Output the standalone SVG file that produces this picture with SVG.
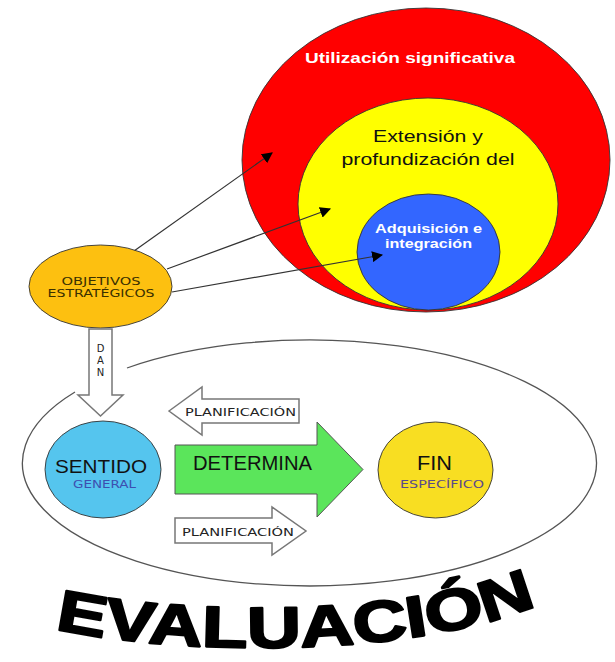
<svg xmlns="http://www.w3.org/2000/svg" width="615" height="662" viewBox="0 0 615 662">
<style>
.ol{stroke:#333;stroke-width:0.9}
.bx{fill:#fff;stroke:#777;stroke-width:1.5}
.sm{font-family:"DejaVu Sans","Liberation Sans",sans-serif;font-size:10px;text-anchor:middle}
.con{stroke:#333;stroke-width:1.2;fill:none;marker-end:url(#ah)}
</style>
<defs>
<marker id="ah" viewBox="0 0 10 10" refX="9" refY="5" markerWidth="11" markerHeight="11" markerUnits="userSpaceOnUse" orient="auto">
<path d="M0 0 L10 5 L0 10 Z" fill="#000"/>
</marker>
</defs>
<rect width="615" height="662" fill="#fff"/>

<g id="utilizacion">
<ellipse cx="426" cy="160" rx="184" ry="152" fill="#ff0000" class="ol"/>
<text x="410" y="63" font-family="Liberation Sans,Arial,sans-serif" font-weight="bold" font-size="15" fill="#fff" text-anchor="middle" textLength="210" lengthAdjust="spacingAndGlyphs">Utilización significativa</text>
</g>
<g id="extension">
<ellipse cx="428" cy="204" rx="130" ry="106" fill="#ffff00" class="ol"/>
<text x="428" y="142" font-family="Liberation Sans,Arial,sans-serif" font-size="17" fill="#111" text-anchor="middle" textLength="110" lengthAdjust="spacingAndGlyphs">Extensión y</text>
<text x="428" y="165" font-family="Liberation Sans,Arial,sans-serif" font-size="17" fill="#111" text-anchor="middle" textLength="173" lengthAdjust="spacingAndGlyphs">profundización del</text>
</g>
<g id="adquisicion">
<ellipse cx="428.5" cy="252" rx="71.5" ry="58" fill="#3366ff" class="ol"/>
<text x="428.5" y="233" font-family="Liberation Sans,Arial,sans-serif" font-weight="bold" font-size="13" fill="#fff" text-anchor="middle" textLength="107" lengthAdjust="spacingAndGlyphs">Adquisición e</text>
<text x="428.5" y="248" font-family="Liberation Sans,Arial,sans-serif" font-weight="bold" font-size="13" fill="#fff" text-anchor="middle" textLength="87" lengthAdjust="spacingAndGlyphs">integración</text>
</g>

<g id="connectors">
<line x1="134" y1="251" x2="272" y2="153" class="con"/>
<line x1="167" y1="269" x2="330" y2="209" class="con"/>
<line x1="172" y1="292" x2="382" y2="255" class="con"/>
</g>

<g id="objetivos">
<ellipse cx="100.5" cy="286.5" rx="71.5" ry="41.5" fill="#fdc010" class="ol"/>
<text x="101" y="285" class="sm" fill="#3a3000" textLength="79" lengthAdjust="spacingAndGlyphs">OBJETIVOS</text>
<text x="101" y="297" class="sm" fill="#3a3000" textLength="107" lengthAdjust="spacingAndGlyphs">ESTRATÉGICOS</text>
</g>

<g id="evaluacion-frame">
<path d="M127 368 A287 123 0 1 1 75 392" fill="none" stroke="#555" stroke-width="1.3"/>
</g>

<g id="dan">
<path d="M89 329 H112 V395 H123 L100.5 416 L78 395 H89 Z" class="bx"/>
<text x="100.5" y="352" class="sm" fill="#222">D</text>
<text x="100.5" y="364" class="sm" fill="#222">A</text>
<text x="100.5" y="376" class="sm" fill="#222">N</text>
</g>

<g id="planificacion-top">
<path d="M169 411 L202 387 V399 H299 V423 H202 V435 Z" class="bx"/>
<text x="240.5" y="416" class="sm" fill="#222" textLength="111" lengthAdjust="spacingAndGlyphs">PLANIFICACIÓN</text>
</g>

<g id="planificacion-bottom">
<path d="M175 518 H272 V507 L306 531 L272 555 V543 H175 Z" class="bx"/>
<text x="238" y="536" class="sm" fill="#222" textLength="112" lengthAdjust="spacingAndGlyphs">PLANIFICACIÓN</text>
</g>

<g id="sentido">
<ellipse cx="103" cy="469.5" rx="58" ry="48.5" fill="#55c5ee" class="ol"/>
<text x="101" y="473" font-family="Liberation Sans,Arial,sans-serif" font-size="19" fill="#111" text-anchor="middle" textLength="92" lengthAdjust="spacingAndGlyphs">SENTIDO</text>
<text x="104.5" y="488" class="sm" fill="#3d4fb0" textLength="63" lengthAdjust="spacingAndGlyphs">GENERAL</text>
</g>

<g id="determina">
<path d="M175 445 H317 V422 L363 469.5 L317 517 V494 H175 Z" fill="#5be55b" stroke="#555" stroke-width="1"/>
<text x="252.5" y="470" font-family="Liberation Sans,Arial,sans-serif" font-size="20" fill="#111" text-anchor="middle" textLength="119" lengthAdjust="spacingAndGlyphs">DETERMINA</text>
</g>

<g id="fin">
<ellipse cx="435.5" cy="470" rx="57.5" ry="48" fill="#f8de22" class="ol"/>
<text x="434.5" y="470" font-family="Liberation Sans,Arial,sans-serif" font-size="20" fill="#111" text-anchor="middle" textLength="35" lengthAdjust="spacingAndGlyphs">FIN</text>
<text x="442" y="488" class="sm" fill="#5a4a8a" textLength="84" lengthAdjust="spacingAndGlyphs">ESPECÍFICO</text>
</g>

<g id="evaluacion-title">
<defs><path id="arc" d="M52 628 C150 652 400 664 540 604"/></defs>
<text font-family="Liberation Sans,Arial,sans-serif" font-weight="bold" font-size="58" fill="#000" stroke="#000" stroke-width="2.2" stroke-linejoin="round"><textPath href="#arc" startOffset="3" textLength="488" lengthAdjust="spacingAndGlyphs">EVALUACIÓN</textPath></text>
</g>
</svg>
